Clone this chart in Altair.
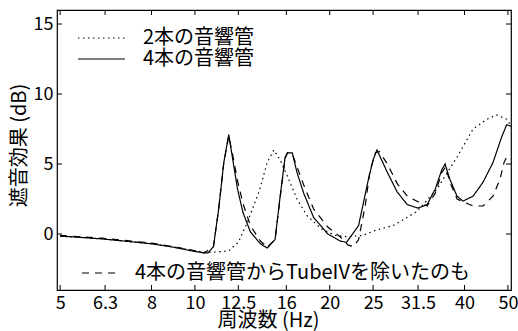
import altair as alt
import pandas as pd

FONT = "Noto Sans CJK JP"

# 4本の音響管 (solid)
solid_f = [5.0, 5.6, 6.2, 7.2, 8.0, 8.8, 9.3, 10.0, 10.5, 10.7, 11.0, 11.3, 11.6, 11.9, 12.15, 12.45,
           12.8, 13.3, 14.0, 14.5, 15.1, 15.5, 15.9, 16.1, 16.5, 16.9, 17.5, 18.4, 19.8, 21.1, 21.8,
           23.2, 24.4, 25.0, 25.5, 26.9, 28.3, 29.8, 31.5, 33.0, 34.4, 35.6, 36.2, 37.1, 38.5, 39.7,
           41.8, 44.0, 46.3, 48.5, 49.7, 50.8]
solid_db = [-0.15, -0.25, -0.35, -0.55, -0.7, -0.9, -1.05, -1.25, -1.35, -1.35, -0.9, 1.8, 5.1, 7.1, 5.3, 3.2,
            1.55, 0.15, -0.7, -1.0, -0.4, 2.7, 5.5, 5.8, 5.8, 4.4, 2.9, 1.2, 0.0, -0.5, -0.6,
            0.6, 3.9, 5.3, 6.0, 4.4, 3.0, 2.1, 1.85, 2.1, 3.2, 4.6, 5.0, 3.9, 2.7, 2.35,
            2.7, 3.7, 5.1, 7.0, 7.8, 7.7]

# 4本の音響管からTubeIVを除いたもの (dashed)
dash_f = [5.0, 6.2, 8.0, 9.3, 10.0, 10.5, 11.0, 11.3, 11.6, 11.9, 12.15, 12.45, 12.8, 13.3, 14.0, 14.5,
          15.1, 15.5, 15.9, 16.1, 16.5, 16.9, 17.5, 18.4, 19.8, 21.1, 22.0, 22.6, 23.2, 24.0, 24.6,
          25.3, 25.8, 26.9, 28.3, 29.8, 31.5, 33.0, 34.4, 35.6, 36.3, 37.1, 38.5, 39.7, 41.8, 44.0,
          46.3, 48.0, 49.0, 49.7, 50.8]
dash_db = [-0.1, -0.3, -0.65, -1.0, -1.2, -1.35, -0.9, 1.8, 5.1, 7.0, 5.6, 3.8, 2.2, 0.6, -0.5, -0.95,
           -0.4, 2.6, 5.4, 5.8, 5.7, 4.8, 3.5, 1.8, 0.5, -0.2, -0.8, -0.9, -0.4, 2.0, 4.5,
           5.8, 5.9, 5.0, 3.6, 2.7, 2.3, 2.0, 2.9, 4.4, 4.8, 3.7, 2.5, 2.3, 2.0, 2.0,
           2.7, 3.9, 5.1, 5.5, 5.3]

# 2本の音響管 (dotted)
dot_f = [5.0, 6.2, 8.0, 9.3, 10.0, 10.5, 11.0, 11.9, 12.5, 13.1, 13.9, 14.5, 15.0, 15.5, 16.1, 16.9,
         17.8, 19.2, 20.6, 22.0, 23.7, 25.5, 27.7, 31.3, 34.7, 38.5, 41.8, 44.9, 47.2, 49.7, 50.8]
dot_db = [-0.15, -0.35, -0.7, -1.0, -1.2, -1.3, -1.3, -1.2, -0.6, 0.85, 3.0, 5.1, 6.0, 5.3, 4.1, 2.5,
          1.3, 0.35, -0.1, -0.2, -0.1, 0.3, 0.6, 1.6, 3.2, 5.5, 7.5, 8.2, 8.5, 8.2, 7.7]

series_names = ["2本の音響管", "4本の音響管", "4本の音響管からTubeIVを除いたのも"]
x_ticks = [5, 6.3, 8, 10, 12.5, 16, 20, 25, 31.5, 40, 50]
y_ticks = [0, 5, 10, 15]

W, H = 454, 280

rows = []
for f, d in zip(dot_f, dot_db):
    rows.append({"series": series_names[0], "f": f, "db": d})
for f, d in zip(solid_f, solid_db):
    rows.append({"series": series_names[1], "f": f, "db": d})
for f, d in zip(dash_f, dash_db):
    rows.append({"series": series_names[2], "f": f, "db": d})
df = pd.DataFrame(rows)

xscale = alt.Scale(type="log", domain=[4.92, 50.8], nice=False)
yscale = alt.Scale(domain=[-4, 16], nice=False)

lines = alt.Chart(df).mark_line(color="black", strokeWidth=1.2, clip=True).encode(
    x=alt.X("f:Q", scale=xscale,
            axis=alt.Axis(values=x_ticks, format="~g", title="周波数 (Hz)", ticks=False, domain=False,
                          grid=False, labelFontSize=18, labelPadding=4, titleFontSize=20,
                          titleFontWeight="normal", labelFont=FONT, titleFont=FONT,
                          labelColor="black", titleColor="black", titleX=211, titleY=40,
                          titleBaseline="bottom", titleAlign="center", labelFlush=False)),
    y=alt.Y("db:Q", scale=yscale,
            axis=alt.Axis(values=y_ticks, title="遮音効果 (dB)", ticks=False, domain=False, grid=False,
                          labelFontSize=18, labelPadding=4, titleFontSize=20,
                          titleX=-38, titleY=135, titleAngle=270, titleAlign="center",
                          titleBaseline="middle",
                          titleFontWeight="normal", labelFont=FONT, titleFont=FONT,
                          labelColor="black", titleColor="black")),
    strokeDash=alt.StrokeDash("series:N", scale=alt.Scale(domain=series_names,
                              range=[[1.5, 3.5], [1, 0], [7, 6]]), legend=None),
    detail="series:N",
)

xt = pd.DataFrame({"t": x_ticks})
yt = pd.DataFrame({"t": y_ticks})
tick_b = alt.Chart(xt).mark_rule(color="black", strokeWidth=1).encode(
    x=alt.X("t:Q", scale=xscale), y=alt.value(H), y2=alt.value(H - 5))
tick_t = alt.Chart(xt).mark_rule(color="black", strokeWidth=1).encode(
    x=alt.X("t:Q", scale=xscale), y=alt.value(0), y2=alt.value(5))
tick_l = alt.Chart(yt).mark_rule(color="black", strokeWidth=1).encode(
    y=alt.Y("t:Q", scale=yscale), x=alt.value(0), x2=alt.value(5))
tick_r = alt.Chart(yt).mark_rule(color="black", strokeWidth=1).encode(
    y=alt.Y("t:Q", scale=yscale), x=alt.value(W), x2=alt.value(W - 5))

# legend
leg = pd.DataFrame({"name": series_names})
def legend_item(i, x1, x2, ly, tx, dash):
    d = leg.iloc[[i]]
    r = alt.Chart(d).mark_rule(color="black", strokeWidth=1.2, strokeDash=dash).encode(
        x=alt.value(x1), x2=alt.value(x2), y=alt.value(ly))
    t = alt.Chart(d).mark_text(align="left", baseline="middle", font=FONT, fontSize=20,
                               color="black").encode(
        x=alt.value(tx), y=alt.value(ly), text="name:N")
    return r + t

l1 = legend_item(0, 21, 68, 28, 86, [1.5, 3.5])
l2 = legend_item(1, 21, 68, 49, 86, [1, 0])
l3 = legend_item(2, 25, 58, 263, 78, [7, 6])

chart = alt.layer(lines, tick_b, tick_t, tick_l, tick_r, l1, l2, l3).properties(
    width=W, height=H,
    padding={"left": 57, "top": 10, "right": 7, "bottom": 41},
    autosize=alt.AutoSizeParams(type="none"),
    background="white",
).configure_view(stroke="black", strokeWidth=1.2)

chart.save("out.html", embed_options={"renderer": "svg", "actions": False})
